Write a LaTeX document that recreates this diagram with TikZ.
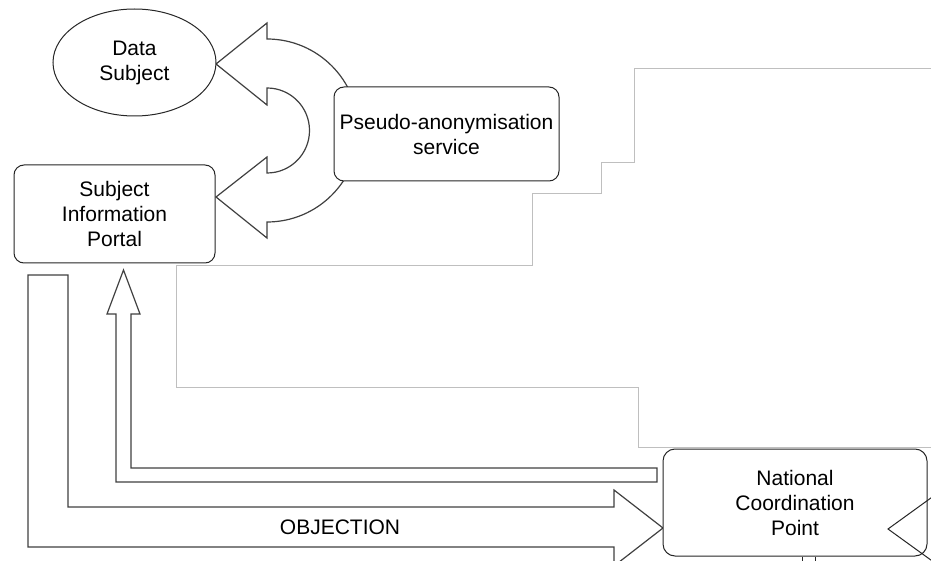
\documentclass[tikz,border=0pt]{standalone}
\usepackage{fontspec}
\setmainfont{Liberation Sans}
\usetikzlibrary{shapes.geometric}
\tikzset{
  box/.style={draw=black!85, line width=1pt, fill=white, rounded corners=10pt, align=center, inner sep=0pt, font=\fontsize{21}{25}\selectfont},
  oval/.style={box, ellipse, rounded corners=0pt},
  blockarrow/.style={draw=black!75, line width=1.2pt, fill=white, line join=miter},
  cover/.style={draw=black!25, fill=white, line width=1pt},
  lbl/.style={font=\fontsize{21}{25}\selectfont},
  thin line/.style={draw=black!85, line width=1pt}
}
\begin{document}
\begin{tikzpicture}[x=1pt,y=1pt]
\useasboundingbox (0,0) rectangle (931,-561);
\clip (0,0) rectangle (931,-561);
% U-shaped block arrow from the pseudo-anonymisation service
\coordinate (uc) at (267,-130.5);
\draw[blockarrow] (267,-39) arc[start angle=90, end angle=-90, radius=91.5]
  -- (267,-238) -- (216,-197) -- (267,-157) -- (267,-173)
  arc[start angle=-90, end angle=90, radius=42.5]
  -- (267,-105) -- (216,-64) -- (267,-23) -- cycle;
% nodes
\node[oval, minimum width=163pt, minimum height=107pt] (ds) at (134.5,-62.5) {Data\\Subject};
\node[box, minimum width=201pt, minimum height=98pt] (sip) at (114.5,-214) {Subject\\Information\\Portal};
\node[box, minimum width=225pt, minimum height=94pt] (pas) at (446.5,-134) {Pseudo-anonymisation\\service};
% objection block arrow
\draw[blockarrow] (28,-275) -- (28,-547) -- (614,-547) -- (614,-566) -- (663,-528)
  -- (614,-490) -- (614,-507) -- (68,-507) -- (68,-275) -- cycle;
% return block arrow up into the portal
\draw[blockarrow] (657,-468) -- (131,-468) -- (131,-314) -- (140,-314) -- (123.5,-270)
  -- (107,-314) -- (116,-314) -- (116,-482) -- (657,-482) -- cycle;
\node[lbl] (obj) at (340,-527) {OBJECTION};
% white cover region
\draw[cover] (940,-69) -- (634,-69) -- (634,-163) -- (601,-163) -- (601,-194)
  -- (532,-194) -- (532,-266) -- (176,-266) -- (176,-387) -- (638,-387)
  -- (638,-447) -- (940,-447);
% national coordination point
\node[box, minimum width=264pt, minimum height=107pt, rounded corners=12pt] (ncp) at (795,-502.5) {National\\Coordination\\Point};
\draw[thin line] (935,-495) -- (888,-529) -- (935,-563);
\draw[thin line] ([xshift=7pt]ncp.south) -- ++(0,-10);
\draw[thin line] ([xshift=20pt]ncp.south) -- ++(0,-10);
\end{tikzpicture}
\end{document}
